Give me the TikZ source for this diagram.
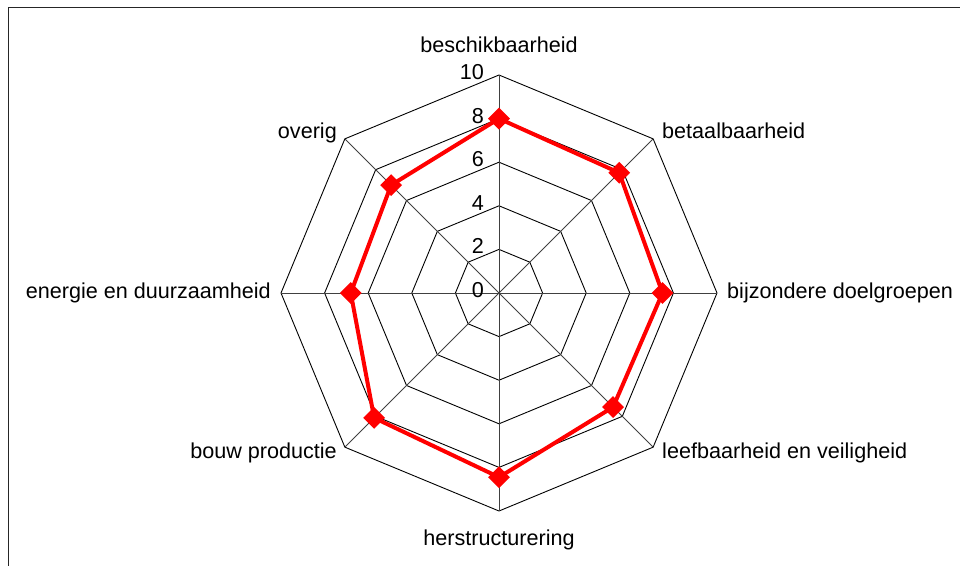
\documentclass[tikz,border=0pt]{standalone}
\usepackage{fontspec}
\setmainfont{Liberation Sans}
\usetikzlibrary{shapes.geometric}

\tikzset{
  gridline/.style={draw=black, line width=0.9pt},
  spoke/.style={draw=black!75, line width=0.9pt},
  series/.style={draw=red, line width=4pt, line join=miter},
  marker/.style={diamond, fill=red, draw=none, inner sep=0pt,
                 minimum width=22pt, minimum height=22pt},
  axislabel/.style={inner sep=0pt, text height=15pt, text depth=4pt,
                    font=\fontsize{21.6}{26}\selectfont},
  ticklabel/.style={inner sep=0pt, anchor=east, text height=15pt, text depth=4pt,
                    font=\fontsize{21.6}{26}\selectfont},
  frameline/.style={draw=black!85, line width=1.8pt}
}

% radius of one unit of the scale, in pixels
\def\unit{21.8}
\def\cx{499}
\def\cy{293}

\begin{document}
\begin{tikzpicture}[x=1pt, y=-1pt]
  \useasboundingbox (0,0) rectangle (960,565);

  % outer frame (only the top and left edges fall inside the page)
  \draw[frameline] (8.5,575) -- (8.5,7.5) -- (970,7.5);

  % centre of the chart
  \coordinate (c) at (\cx,\cy);

  % octagonal rings at 2, 4, 6, 8, 10
  \foreach \r in {2,4,6,8,10} {
    \draw[gridline] (\cx,{\cy-\unit*\r})
      \foreach \k in {1,...,7} { -- ({\cx+\unit*\r*sin(45*\k)},{\cy-\unit*\r*cos(45*\k)}) }
      -- cycle;
  }

  % spokes
  \foreach \k in {0,...,7} {
    \coordinate (a\k) at ({\cx+\unit*10*sin(45*\k)},{\cy-\unit*10*cos(45*\k)});
    \draw[spoke] (c) -- (a\k);
  }

  % scale labels along the vertical axis
  \foreach \r in {0,2,4,6,8,10} {
    \node[ticklabel] (t\r) at (484,{\cy-\unit*\r-1}) {\r};
  }

  % axis labels
  \node[axislabel, anchor=center] (l0) at (499,46.5) {beschikbaarheid};
  \node[axislabel, anchor=west]   (l1) at (662,133) {betaalbaarheid};
  \node[axislabel, anchor=west]   (l2) at (727,293) {bijzondere doelgroepen};
  \node[axislabel, anchor=west]   (l3) at (662,453) {leefbaarheid en veiligheid};
  \node[axislabel, anchor=center] (l4) at (499,540) {herstructurering};
  \node[axislabel, anchor=east]   (l5) at (337,453) {bouw productie};
  \node[axislabel, anchor=east]   (l6) at (271,293) {energie en duurzaamheid};
  \node[axislabel, anchor=east]   (l7) at (337,133) {overig};

  % data points
  \foreach \v [count=\i from 0] in {8,7.8,7.5,7.4,8.45,8.1,6.8,7.0} {
    \coordinate (p\i) at ({\cx+\unit*\v*sin(45*\i)},{\cy-\unit*\v*cos(45*\i)});
  }

  % data series
  \draw[series] (p0) -- (p1) -- (p2) -- (p3) -- (p4) -- (p5) -- (p6) -- (p7) -- cycle;
  \foreach \i in {0,...,7} {
    \node[marker] (m\i) at (p\i) {};
  }
\end{tikzpicture}
\end{document}
